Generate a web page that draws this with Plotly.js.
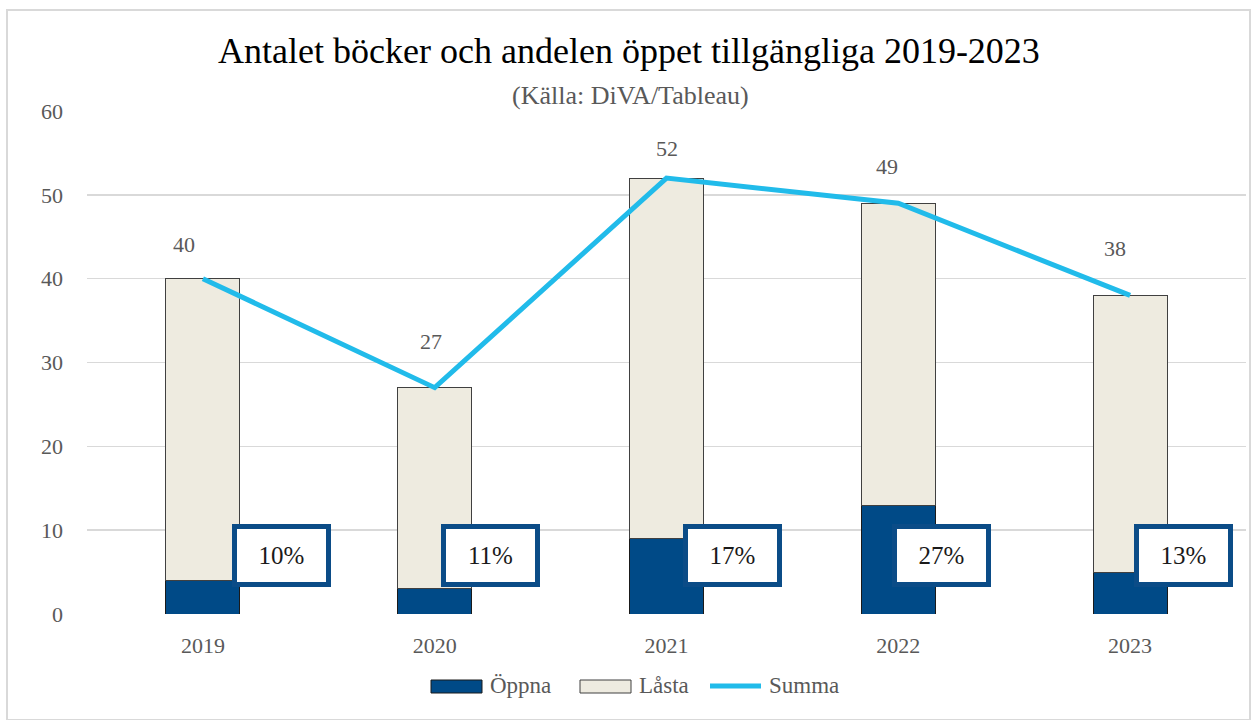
<!DOCTYPE html>
<html>
<head>
<meta charset="utf-8">
<script src="https://cdn.plot.ly/plotly-3.0.1.min.js"></script>
<style>
html,body{margin:0;padding:0;background:#fff;}
#wrap{position:relative;width:1253px;height:720px;}
#chart{position:absolute;left:0;top:0;width:1253px;height:720px;}
#frame{position:absolute;left:6px;top:9px;width:1241px;height:708px;border:2px solid #d9d9d9;pointer-events:none;}
</style>
</head>
<body>
<div id="wrap"><div id="chart"></div><div id="frame"></div></div>
<script>
// ---- data ----
const years = ["2019", "2020", "2021", "2022", "2023"];
const oppna = [4, 3, 9, 13, 5];
const lasta = [36, 24, 43, 36, 33];
const summa = [40, 27, 52, 49, 38];
const andelLabels = ["10%", "11%", "17%", "27%", "13%"];
const yTicks = [0, 10, 20, 30, 40, 50, 60];

// ---- layout constants (pixel offsets for labels) ----
const pctXShift = [79, 56, 66, 43, 53];
const valXShift = [-19, -4, 0, -11, -15];
const valYShift = [34, 46, 30, 37, 47];

const FONT = "Liberation Serif";
const GRAY = "#595959";
const BLUE = "#004a87";
const BEIGE = "#eeebe0";
const CYAN = "#21bbea";

const W = 1253, H = 720;
const M = {l: 87, r: 7, t: 111, b: 106};
const PW = W - M.l - M.r, PH = H - M.t - M.b;
const px = x => (x - M.l) / PW;
const py = y => (H - M.b - y) / PH;

const traces = [
  {type: "bar", name: "Öppna", x: years, y: oppna, width: 0.32,
   marker: {color: BLUE, line: {color: "#1a1a1a", width: 1}}, hoverinfo: "x+y+name"},
  {type: "bar", name: "Låsta", x: years, y: lasta, width: 0.32,
   marker: {color: BEIGE, line: {color: "#404040", width: 1}}, hoverinfo: "x+y+name"},
  {type: "scatter", mode: "lines", name: "Summa", x: years, y: summa,
   line: {color: CYAN, width: 5}, hoverinfo: "x+y+name"}
];

const annotations = [];
years.forEach((yr, i) => {
  // i = category serial number on the category axis
  annotations.push({
    x: i, y: summa[i], xref: "x", yref: "y", text: String(summa[i]),
    showarrow: false, xshift: valXShift[i], yshift: valYShift[i],
    xanchor: "center", yanchor: "middle",
    font: {family: FONT, size: 22, color: GRAY}
  });
  annotations.push({
    x: i, y: 7, xref: "x", yref: "y", text: andelLabels[i],
    showarrow: false, xshift: pctXShift[i], xanchor: "center", yanchor: "middle",
    width: 89, height: 53, borderwidth: 5, borderpad: 0,
    bordercolor: "#0b4c87", bgcolor: "#ffffff",
    font: {family: FONT, size: 25, color: "#1a1a1a"}
  });
});
// subtitle
annotations.push({
  xref: "paper", yref: "paper", x: px(630), y: py(95), xanchor: "center", yanchor: "middle",
  text: "(Källa: DiVA/Tableau)",
  showarrow: false, font: {family: FONT, size: 26, color: GRAY}
});

// custom legend
const shapes = [
  {type: "rect", xref: "paper", yref: "paper", x0: px(431), x1: px(482), y0: py(693), y1: py(680),
   fillcolor: BLUE, line: {color: "#1a1a1a", width: 1}},
  {type: "rect", xref: "paper", yref: "paper", x0: px(580), x1: px(631), y0: py(693), y1: py(680),
   fillcolor: BEIGE, line: {color: "#404040", width: 1}},
  {type: "line", xref: "paper", yref: "paper", x0: px(710), x1: px(761), y0: py(686), y1: py(686),
   line: {color: CYAN, width: 5}}
];
const legendItems = [["Öppna", 488], ["Låsta", 637], ["Summa", 767]];
legendItems.forEach(([t, xx]) => {
  annotations.push({xref: "paper", yref: "paper", x: px(xx), y: py(685), xanchor: "left", yanchor: "middle",
    text: t, showarrow: false, font: {family: FONT, size: 23, color: GRAY}});
});

const layout = {
  width: W, height: H,
  margin: M,
  paper_bgcolor: "#ffffff", plot_bgcolor: "#ffffff",
  barmode: "stack",
  showlegend: false,
  title: {text: "Antalet böcker och andelen öppet tillgängliga 2019-2023",
    font: {family: FONT, size: 36, color: "#000000"},
    x: px(629), xref: "paper", xanchor: "center", y: 1 - 50 / H, yanchor: "middle"},
  xaxis: {type: "category", range: [-0.5, 4.5], autorange: false,
    showgrid: false, zeroline: false, showline: false,
    ticks: "", tickfont: {family: FONT, size: 22, color: GRAY}, ticklabelstandoff: 16},
  yaxis: {range: [0, 60], autorange: false, tickvals: yTicks, showgrid: true, gridcolor: "#d9d9d9", gridwidth: 1.5,
    zeroline: false, showline: false, ticks: "",
    tickfont: {family: FONT, size: 22, color: GRAY}, ticklabelstandoff: 23},
  annotations: annotations,
  shapes: shapes,
  font: {family: FONT}
};

Plotly.newPlot("chart", traces, layout, {displayModeBar: false, staticPlot: true});
</script>
</body>
</html>
